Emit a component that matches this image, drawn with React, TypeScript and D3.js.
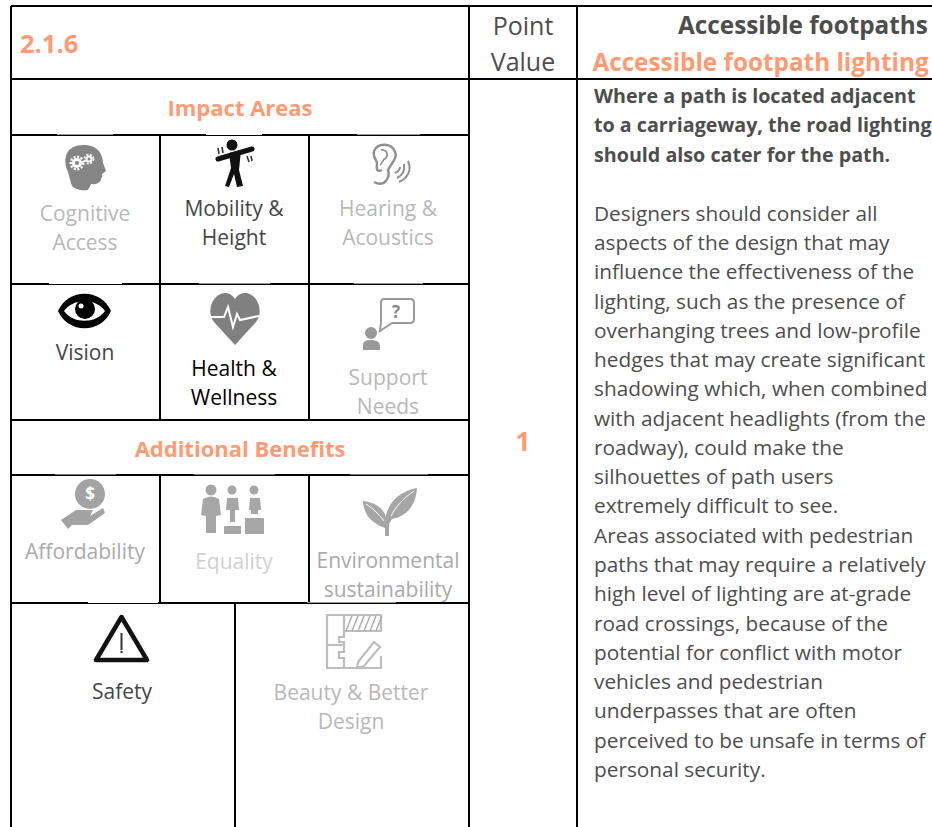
import React from "react";
import * as d3 from "d3";

const FONT = "'Open Sans', sans-serif";
const ORANGE = "#ff9a73";
const DARK = "#4d4d4d";

const gridColumns = [11, 160, 309, 469, 577, 932];
const gridRows = [6, 79, 135, 284, 420, 475, 603, 827];
const bottomSplit = 235;

type Cell = { label: string[]; cx: number; y: number; color: string; size?: number };
const cellLabels: Cell[] = [
  { label: ["Cognitive", "Access"], cx: 85, y: 220.5, color: "#b8b8b8" },
  { label: ["Mobility &", "Height"], cx: 234, y: 215.5, color: "#454545" },
  { label: ["Hearing &", "Acoustics"], cx: 388, y: 215.5, color: "#b8b8b8" },
  { label: ["Vision"], cx: 85, y: 360, color: "#454545" },
  { label: ["Health &", "Wellness"], cx: 234, y: 376, color: "#000" },
  { label: ["Support", "Needs"], cx: 388, y: 384.5, color: "#b8b8b8" },
  { label: ["Affordability"], cx: 85, y: 559, color: "#aaa" },
  { label: ["Equality"], cx: 234, y: 569, color: "#d0d0d0" },
  { label: ["Environmental", "sustainability"], cx: 388, y: 568, color: "#aaa" },
  { label: ["Safety"], cx: 122, y: 699, color: "#454545" },
  { label: ["Beauty & Better", "Design"], cx: 351, y: 700, color: "#b8b8b8" },
];

const boldLines = [
  "Where a path is located adjacent",
  "to a carriageway, the road lighting",
  "should also cater for the path.",
];
const bodyLines = [
  "Designers should consider all",
  "aspects of the design that may",
  "influence the effectiveness of the",
  "lighting, such as the presence of",
  "overhanging trees and low-profile",
  "hedges that may create significant",
  "shadowing which, when combined",
  "with adjacent headlights (from the",
  "roadway), could make the",
  "silhouettes of path users",
  "extremely difficult to see.",
  "Areas associated with pedestrian",
  "paths that may require a relatively",
  "high level of lighting are at-grade",
  "road crossings, because of the",
  "potential for conflict with motor",
  "vehicles and pedestrian",
  "underpasses that are often",
  "perceived to be unsafe in terms of",
  "personal security.",
];

// Stretches of the rules that the icon pictures partly cover in the reference.
const ruleOverlaps = [
  { x: 57, w: 56, y: 134, c: "#999" },
  { x: 206, w: 56, y: 134, c: "#fff" },
  { x: 357, w: 63, y: 134, c: "#999" },
  { x: 49, w: 73, y: 283, c: "#fff" },
  { x: 199, w: 71, y: 283, c: "#999" },
  { x: 354, w: 69, y: 283, c: "#999" },
  { x: 55, w: 61, y: 474, c: "#777" },
  { x: 194, w: 81, y: 474, c: "#777" },
  { x: 350, w: 78, y: 474, c: "#777" },
  { x: 88, w: 70, y: 602, c: "#fff" },
  { x: 307, w: 89, y: 602, c: "#999" },
];

const Gear = ({ x, y, r, fill }: { x: number; y: number; r: number; fill: string }) => (
  <g>
    <circle cx={x} cy={y} r={r} fill="#fff" />
    <circle cx={x} cy={y} r={r * 1.25} fill="none" stroke="#fff" strokeWidth={r * 0.5} strokeDasharray="2 1.6" />
    <circle cx={x} cy={y} r={r * 0.42} fill={fill} />
  </g>
);

const Icons = () => (
  <g>
    {/* head */}
    <path d="M68 172 C62 158 66 145 84 145 C98 145 103 155 103 163 L106 171 L102 174 C102 181 99 185 91 184 L88 190 C80 191 72 189 71 183 Z" fill="#858585" />
    <Gear x={77} y={163} r={5} fill="#858585" />
    <Gear x={89} y={159} r={3.6} fill="#858585" />
    {/* mobility */}
    <circle cx={232} cy={145} r={5.5} fill="#111" />
    <path d="M218 159 L252 149" stroke="#111" strokeWidth={5} strokeLinecap="round" />
    <path d="M229 153 L241 150 L239 170 L243 186 L237 187 L234 174 L229 187 L225 186 L231 168 Z" fill="#111" />
    <path d="M218 148 L219 154 M222 147 L223 153 M247 156 L249 162 M251 156 L252 161" stroke="#333" strokeWidth={1.6} />
    {/* ear */}
    <path d="M374 182 C386 188 390 176 388 170 C392 162 398 158 395 152 C392 143 378 142 374 151 C372 158 378 160 377 165 C376 170 378 172 382 170" fill="none" stroke="#8f8f8f" strokeWidth={2.4} />
    <path d="M381 150 C386 149 389 154 386 158 C382 160 382 164 380 165" fill="none" stroke="#8f8f8f" strokeWidth={1.6} />
    <path d="M395 173 C399 171 400 169 400 167 M397 178 C403 175 405 170 404 164 M399 182 C408 178 412 170 408 161" fill="none" stroke="#8f8f8f" strokeWidth={2} />
    {/* eye */}
    <path d="M58 311 C68 288 101 288 111 311 C101 334 68 334 58 311 Z" fill="#000" />
    <path d="M64 311 C73 298 96 298 105 311 C96 324 73 324 64 311 Z" fill="#fff" />
    <circle cx={85} cy={309} r={10} fill="#000" />
    <circle cx={81} cy={306} r={2.5} fill="#fff" />
    {/* heart */}
    <path d="M235 345 L214 322 C205 310 214 293 225 293 C230 293 233 296 235 299 C237 296 240 293 245 293 C256 293 265 310 256 322 Z" fill="#808080" />
    <path d="M211 317 L224 317 L228 307 L233 327 L237 314 L240 320 L259 316" fill="none" stroke="#fff" strokeWidth={2} />
    {/* support */}
    <path d="M384 299 H410 Q414 299 414 303 V319 Q414 323 410 323 H392 L380 331 L381 322 V303 Q381 299 384 299 Z" fill="none" stroke="#999" strokeWidth={2} />
    <text x={396} y={318} fontSize={17} fontWeight={700} fill="#888" textAnchor="middle" fontFamily={FONT}>?</text>
    <circle cx={371} cy={333} r={6} fill="#999" />
    <path d="M363 350 V344 Q364 340 370 340 Q379 340 380 345 V350 Z" fill="#999" />
    {/* affordability */}
    <circle cx={90} cy={494} r={15} fill="#a3a3a3" />
    <text x={90} y={500} fontSize={17} fontWeight={700} fill="#fff" textAnchor="middle" fontFamily={FONT}>$</text>
    <path d="M61 520 L76 510 L93 510 L90 516 L103 508 L105 513 L88 525 L72 525 L68 529 Z" fill="#a3a3a3" />
    {/* equality */}
    <g fill="#a6a6a6">
      <circle cx={211} cy={490} r={5.5} />
      <path d="M201 515 L203 499 Q211 494 219 499 L221 515 L216 516 V533 H206 V516 Z" />
      <circle cx={232} cy={490} r={4.5} />
      <path d="M226 510 L227 498 H238 L239 510 L235 510 V522 H230 V510 Z" />
      <rect x={224} y={526} width={17} height={8} />
      <circle cx={254} cy={490} r={4.5} />
      <path d="M249 510 L250 498 H260 L261 510 L258 510 V514 H251 V510 Z" />
      <rect x={245} y={518} width={19} height={16} />
    </g>
    {/* plant */}
    <g fill="#a6a6a6">
      <path d="M389 536 H385 L385 524 C385 508 395 492 417 488 C416 504 408 516 392 519 L389 524 Z" />
      <path d="M385 528 C378 525 364 520 363 501 C375 502 386 509 387 522 Z" />
    </g>
    <path d="M391 516 C396 506 404 498 414 491" fill="none" stroke="#fff" strokeWidth={1} />
    <path d="M384 521 C378 513 372 508 366 504" fill="none" stroke="#fff" strokeWidth={1} />
    {/* safety */}
    <path d="M121.5 617 L147 660 H96 Z" fill="none" stroke="#111" strokeWidth={4.5} strokeLinejoin="round" />
    <path d="M121.5 633 V650" stroke="#333" strokeWidth={2} />
    <circle cx={121.5} cy={652} r={1.2} fill="#333" />
    {/* beauty */}
    <g fill="none" stroke="#bdbdbd" strokeWidth={2.2}>
      <path d="M344 615 H327 V668 H381 V656" />
      <path d="M344 615 H381 V631 H344 Z" />
      <path d="M344 631 V637 H339 V642 H344 V645 H327" />
      <path d="M344 645 V652 H339 V658 H344 V668" />
      <path d="M358 662 L374 642 L380 647 L364 666 L357 668 Z" />
    </g>
    <g stroke="#aaa" strokeWidth={1.4}>
      {d3.range(6).map((i) => (
        <line key={i} x1={346 + i * 6} y1={631} x2={352 + i * 6} y2={616} />
      ))}
    </g>
  </g>
);

export default function App() {
  const [c0, c1, c2, c3, c4, c5] = gridColumns;
  const [r0, r1, r2, r3, r4, r5, r6, r7] = gridRows;
  const L = (x1: number, y1: number, x2: number, y2: number, k: string) => (
    <line key={k} x1={x1} y1={y1} x2={x2} y2={y2} stroke="#000" strokeWidth={2} />
  );
  const bodyY = d3.scaleLinear().domain([0, bodyLines.length - 1]).range([220.7, 777]);
  const boldY = d3.scaleLinear().domain([0, boldLines.length - 1]).range([102.5, 161.5]);
  return (
    <svg
      width={932}
      height={827}
      viewBox="0 0 932 827"
      style={{ position: "fixed", left: 0, top: 0, background: "#fff" }}
      fontFamily={FONT}
    >
      <rect width={932} height={827} fill="#fff" />
      {L(c0, r0, c5, r0, "t")}
      {L(c0, r1, c5, r1, "r1")}
      {L(c0, r2, c3, r2, "r2")}
      {L(c0, r3, c3, r3, "r3")}
      {L(c0, r4, c3, r4, "r4")}
      {L(c0, r5, c3, r5, "r5")}
      {L(c0, r6, c3, r6, "r6")}
      {L(c0, r0, c0, r7, "v0")}
      {L(c3, r0, c3, r7, "v3")}
      {L(c4, r0, c4, r7, "v4")}
      {L(c1, r2, c1, r3, "a")}
      {L(c2, r2, c2, r3, "b")}
      {L(c1, r3, c1, r4, "c")}
      {L(c2, r3, c2, r4, "d")}
      {L(c1, r5, c1, r6, "e")}
      {L(c2, r5, c2, r6, "f")}
      {L(bottomSplit, r6, bottomSplit, r7, "g")}
      {ruleOverlaps.map((o) => (
        <rect key={`${o.x}-${o.y}`} x={o.x} y={o.y} width={o.w} height={1} fill={o.c} />
      ))}

      <text x={20} y={53} fontSize={25.5} fontWeight={700} fill={ORANGE}>2.1.6</text>
      <text x={240} y={116} fontSize={22} fontWeight={700} fill={ORANGE} textAnchor="middle">Impact Areas</text>
      <text x={240} y={457} fontSize={22} fontWeight={700} fill={ORANGE} textAnchor="middle">Additional Benefits</text>
      <text x={523} y={35} fontSize={25} fill={DARK} textAnchor="middle">Point</text>
      <text x={523} y={71} fontSize={25} fill={DARK} textAnchor="middle">Value</text>
      <text x={523} y={451} fontSize={26} fontWeight={700} fill={ORANGE} textAnchor="middle">1</text>
      <text x={803} y={34} fontSize={24.3} fontWeight={700} fill={DARK} textAnchor="middle">Accessible footpaths</text>
      <text x={760.5} y={71} fontSize={24.3} fontWeight={700} fill={ORANGE} textAnchor="middle">Accessible footpath lighting</text>

      {cellLabels.map((c) =>
        c.label.map((t, i) => (
          <text key={t} x={c.cx} y={c.y + i * 29} fontSize={21} fill={c.color} textAnchor="middle">{t}</text>
        ))
      )}

      {boldLines.map((t, i) => (
        <text key={t} x={594} y={boldY(i)} fontSize={19.7} fontWeight={700} fill={DARK}>{t}</text>
      ))}
      {bodyLines.map((t, i) => (
        <text key={t} x={594} y={bodyY(i)} fontSize={20.8} fill={DARK}>{t}</text>
      ))}
      <Icons />
    </svg>
  );
}
